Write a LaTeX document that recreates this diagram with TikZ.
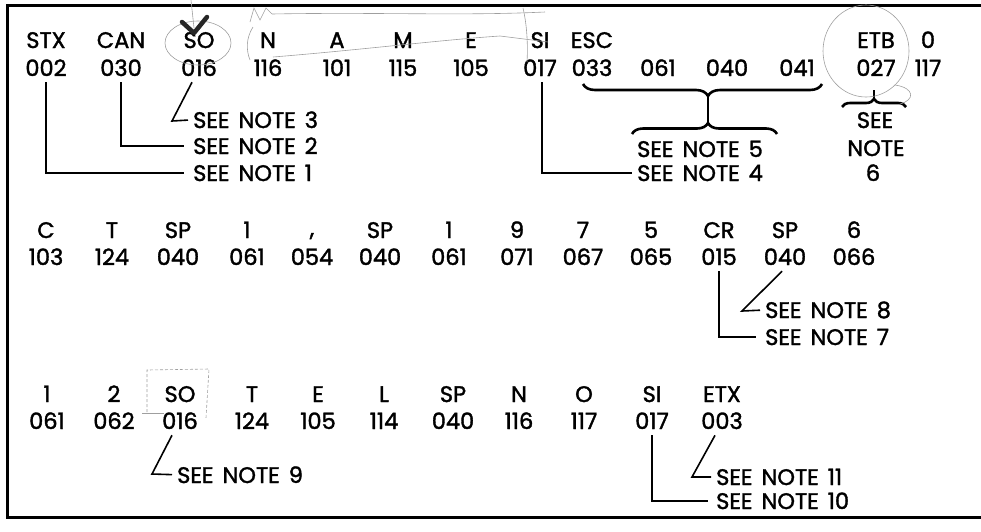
\documentclass[tikz,border=0pt]{standalone}
\usepackage{fontspec}
\setmainfont{Poppins}[FakeBold=1.6, WordSpace=1.5]
\usetikzlibrary{decorations.pathreplacing}
\begin{document}
\begin{tikzpicture}[x=1pt,y=-1pt,
  every node/.style={font=\fontsize{22.5}{26}\selectfont, text=black},
  lab/.style={anchor=base, inner sep=0pt},
  num/.style={anchor=base, inner xsep=0pt, inner ysep=6pt},
  note/.style={anchor=base west, inner sep=0pt},
  notec/.style={anchor=base, inner sep=0pt},
  lead/.style={line width=1.6pt},
  framel/.style={line width=3pt},
  bracel/.style={line width=2.6pt, decorate},
  scrib/.style={gray!75, line width=0.6pt}
]
\useasboundingbox (0,0) rectangle (981,531);
% frame
\draw[framel] (981,5) -- (7.5,5) -- (7.5,517) -- (981,517);

% row 1
\foreach \x/\l/\n [count=\i] in {46/STX/002, 121/CAN/030, 199/SO/016, 268/N/116, 337/A/101, 403/M/115, 471/E/105, 540/SI/017, 592/ESC/033, 658//061, 727//040, 797//041, 876/ETB/027, 928/0/117}{
  \node[lab] (a\i) at (\x,48) {\l};
  \node[num] (b\i) at (\x,76) {\n};
}
% row 2
\foreach \x/\l/\n [count=\i] in {46/C/103, 112/T/124, 178/SP/040, 247/1/061, 380/SP/040, 449/1/061, 517/9/071, 583/7/067, 651/5/065, 719/CR/015, 785/SP/040, 854/6/066}{
  \node[lab] (c\i) at (\x,238) {\l};
  \node[num] (d\i) at (\x,265) {\n};
}
\node[lab] (ccomma) at (312,236) {,};
\node[num] (dcomma) at (312,265) {054};
% row 3
\foreach \x/\l/\n [count=\i] in {47/1/061, 114/2/062, 180/SO/016, 252/T/124, 318/E/105, 384/L/114, 453/SP/040, 519/N/116, 584/O/117, 652/SI/017, 722/ETX/003}{
  \node[lab] (e\i) at (\x,402) {\l};
  \node[num] (f\i) at (\x,429) {\n};
}

% notes row 1
\node[note] (note3) at (193,128) {SEE NOTE 3};
\node[note] (note2) at (193,154) {SEE NOTE 2};
\node[note] (note1) at (193,181) {SEE NOTE 1};
\node[note] (note4) at (637,181) {SEE NOTE 4};
\node[notec] (note5) at (700,157) {SEE NOTE 5};
\node[notec] (note6a) at (875,128) {SEE};
\node[notec] (note6b) at (876,156) {NOTE};
\node[notec] (note6c) at (873,181) {6};

\draw[lead, shorten >=9pt] (b1.south) |- (note1.west);
\draw[lead, shorten >=9pt] (b2.south) |- (note2.west);
\coordinate (k3) at (172,121);
\draw[lead, shorten >=5pt] ([xshift=-7pt]b3.south) -- (k3) -- (note3.west);
\draw[lead, shorten >=5pt] ([xshift=2pt]b8.south) |- (note4.west);

\coordinate (br5a) at (583,84);
\coordinate (br5b) at (822,84);
\coordinate (tip5a) at (708,96);
\coordinate (br5c) at (632,134);
\coordinate (br5d) at (777,134);
\coordinate (tip5b) at (708,123);
\draw[bracel, decoration={brace, amplitude=12pt, aspect=0.523, mirror}] (br5a) -- (br5b);
\draw[lead] (tip5a) -- (tip5b);
\draw[bracel, decoration={brace, amplitude=11pt, aspect=0.524}] (br5c) -- (br5d);

\coordinate (br6a) at (842,107);
\coordinate (br6b) at (906,107);
\coordinate (tip6) at (874,98);
\draw[lead, shorten <=8pt] ([xshift=-2pt]b13.south) -- (tip6);
\draw[bracel, decoration={brace, amplitude=8pt, aspect=0.5}] (br6a) -- (br6b);

% notes row 2
\node[note] (note8) at (765,318) {SEE NOTE 8};
\node[note] (note7) at (765,345) {SEE NOTE 7};
\draw[lead, shorten >=9pt] (d10.south) |- (note7.west);
\coordinate (k8) at (742,311);
\draw[lead, shorten >=5pt] ([xshift=-3pt]d11.south) -- (k8) -- (note8.west);

% notes row 3
\node[note] (note9) at (177,483) {SEE NOTE 9};
\node[note] (note11) at (716,485) {SEE NOTE 11};
\node[note] (note10) at (716,509) {SEE NOTE 10};
\coordinate (k9) at (152,474);
\draw[lead, shorten >=5pt] ([xshift=-8pt]f3.south) -- (k9) -- (note9.west);
\draw[lead, shorten >=8pt] (f10.south) |- (note10.west);
\coordinate (k11) at (692,477);
\draw[lead, shorten >=5pt] ([xshift=-7pt]f11.south) -- (k11) -- (note11.west);

% hand-drawn pencil marks
\draw[scrib] (198,43) ellipse [x radius=33, y radius=22];
\draw[scrib] (191,0) -- (194,28);
\draw[line width=4.5pt, black!85, line cap=round, line join=round] (182,22) -- (194,33) -- (207,17);
\draw[scrib] (253,27) .. controls (246,38) and (246,50) .. (250,60);
\draw[scrib] (250,22) -- (254,8) -- (260,20) -- (266,8) -- (272,14);
\draw[scrib] (272,14) .. controls (380,12) and (460,16) .. (545,12);
\draw[scrib] (273,57) .. controls (360,50) and (440,40) .. (500,36) -- (548,42);
\draw[scrib] (523,8) .. controls (527,25) and (528,45) .. (527,62);
\draw[scrib] (866,51) ellipse [x radius=43, y radius=46];
\draw[scrib] (895,85) .. controls (915,88) and (915,100) .. (900,104);
\draw[scrib, densely dashed] (147,412) -- (147,370) -- (209,369) -- (206,418);
\draw[scrib] (142,413) -- (164,413);
\end{tikzpicture}
\end{document}
